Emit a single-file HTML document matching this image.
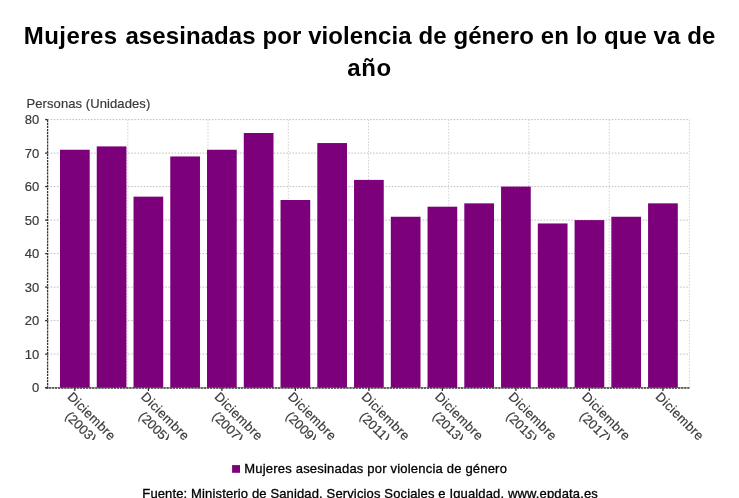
<!DOCTYPE html>
<html lang="es"><head><meta charset="utf-8"><title>Mujeres asesinadas por violencia de género en lo que va de año</title>
<style>
html,body{margin:0;padding:0;background:#fff;}
body{width:739px;height:498px;overflow:hidden;position:relative;font-family:"Liberation Sans",sans-serif;}
svg{position:absolute;left:0;top:0;display:block}
svg text{font-family:"Liberation Sans",sans-serif;}
.title{font-weight:bold;font-size:24px;fill:#000;letter-spacing:0.14px}
.ax{font-size:13px;fill:#3a3a3a;stroke:#3a3a3a;stroke-width:0.2px}
.leg{font-size:13px;fill:#000;stroke:#000;stroke-width:0.3px}
</style></head><body>
<svg width="739" height="498" viewBox="0 0 739 498">
<defs><clipPath id="lab"><rect x="0" y="388" width="739" height="52"/></clipPath></defs>

<text class="title" y="43.7"><tspan x="23.8" style="letter-spacing:0.45px">Mujeres </tspan><tspan x="125.4" style="letter-spacing:0.09px">asesinadas por violencia de género en lo que va de</tspan></text>
<text class="title" x="369.5" y="76.3" text-anchor="middle" style="letter-spacing:0.6px">año</text>
<text class="ax" x="26.5" y="107.8" style="letter-spacing:0.09px">Personas (Unidades)</text>
<g stroke="#bcbcbc" stroke-width="1" stroke-dasharray="1.5,1.6" fill="none">
<line x1="47.6" y1="387.6" x2="689.4" y2="387.6"/>
<line x1="47.6" y1="354.1" x2="689.4" y2="354.1"/>
<line x1="47.6" y1="320.6" x2="689.4" y2="320.6"/>
<line x1="47.6" y1="287.1" x2="689.4" y2="287.1"/>
<line x1="47.6" y1="253.6" x2="689.4" y2="253.6"/>
<line x1="47.6" y1="220.1" x2="689.4" y2="220.1"/>
<line x1="47.6" y1="186.6" x2="689.4" y2="186.6"/>
<line x1="47.6" y1="153.1" x2="689.4" y2="153.1"/>
<line x1="47.6" y1="119.6" x2="689.4" y2="119.6"/>
<line x1="127.8" y1="119.6" x2="127.8" y2="387.6" stroke="#d0d0d0"/>
<line x1="208.0" y1="119.6" x2="208.0" y2="387.6" stroke="#d0d0d0"/>
<line x1="288.3" y1="119.6" x2="288.3" y2="387.6" stroke="#d0d0d0"/>
<line x1="368.5" y1="119.6" x2="368.5" y2="387.6" stroke="#d0d0d0"/>
<line x1="448.7" y1="119.6" x2="448.7" y2="387.6" stroke="#d0d0d0"/>
<line x1="528.9" y1="119.6" x2="528.9" y2="387.6" stroke="#d0d0d0"/>
<line x1="609.2" y1="119.6" x2="609.2" y2="387.6" stroke="#d0d0d0"/>
<line x1="689.4" y1="119.6" x2="689.4" y2="387.6" stroke="#d0d0d0"/>
</g>
<text class="ax" x="39.2" y="392.2" text-anchor="end">0</text>
<text class="ax" x="39.2" y="358.7" text-anchor="end">10</text>
<text class="ax" x="39.2" y="325.2" text-anchor="end">20</text>
<text class="ax" x="39.2" y="291.7" text-anchor="end">30</text>
<text class="ax" x="39.2" y="258.2" text-anchor="end">40</text>
<text class="ax" x="39.2" y="224.7" text-anchor="end">50</text>
<text class="ax" x="39.2" y="191.2" text-anchor="end">60</text>
<text class="ax" x="39.2" y="157.7" text-anchor="end">70</text>
<text class="ax" x="39.2" y="124.2" text-anchor="end">80</text>
<g fill="#7b0079">
<rect x="60.00" y="149.75" width="29.70" height="237.85"/>
<rect x="96.75" y="146.40" width="29.70" height="241.20"/>
<rect x="133.51" y="196.65" width="29.70" height="190.95"/>
<rect x="170.27" y="156.45" width="29.70" height="231.15"/>
<rect x="207.02" y="149.75" width="29.70" height="237.85"/>
<rect x="243.78" y="133.00" width="29.70" height="254.60"/>
<rect x="280.53" y="200.00" width="29.70" height="187.60"/>
<rect x="317.29" y="143.05" width="29.70" height="244.55"/>
<rect x="354.04" y="179.90" width="29.70" height="207.70"/>
<rect x="390.80" y="216.75" width="29.70" height="170.85"/>
<rect x="427.55" y="206.70" width="29.70" height="180.90"/>
<rect x="464.31" y="203.35" width="29.70" height="184.25"/>
<rect x="501.06" y="186.60" width="29.70" height="201.00"/>
<rect x="537.82" y="223.45" width="29.70" height="164.15"/>
<rect x="574.57" y="220.10" width="29.70" height="167.50"/>
<rect x="611.33" y="216.75" width="29.70" height="170.85"/>
<rect x="648.08" y="203.35" width="29.70" height="184.25"/>
</g>
<g stroke="#333333" stroke-width="1.3" fill="none">
<line x1="47.6" y1="119.6" x2="47.6" y2="388.5" stroke-dasharray="2.3,0.8"/>
<line x1="45.6" y1="388.0" x2="689.4" y2="388.0" stroke-dasharray="2.3,0.8"/>
<line x1="45.1" y1="387.6" x2="47.6" y2="387.6"/>
<line x1="45.1" y1="354.1" x2="47.6" y2="354.1"/>
<line x1="45.1" y1="320.6" x2="47.6" y2="320.6"/>
<line x1="45.1" y1="287.1" x2="47.6" y2="287.1"/>
<line x1="45.1" y1="253.6" x2="47.6" y2="253.6"/>
<line x1="45.1" y1="220.1" x2="47.6" y2="220.1"/>
<line x1="45.1" y1="186.6" x2="47.6" y2="186.6"/>
<line x1="45.1" y1="153.1" x2="47.6" y2="153.1"/>
<line x1="45.1" y1="119.6" x2="47.6" y2="119.6"/>
<line x1="74.8" y1="387.6" x2="74.8" y2="391.0"/>
<line x1="148.4" y1="387.6" x2="148.4" y2="391.0"/>
<line x1="221.9" y1="387.6" x2="221.9" y2="391.0"/>
<line x1="295.4" y1="387.6" x2="295.4" y2="391.0"/>
<line x1="368.9" y1="387.6" x2="368.9" y2="391.0"/>
<line x1="442.4" y1="387.6" x2="442.4" y2="391.0"/>
<line x1="515.9" y1="387.6" x2="515.9" y2="391.0"/>
<line x1="589.4" y1="387.6" x2="589.4" y2="391.0"/>
<line x1="662.9" y1="387.6" x2="662.9" y2="391.0"/>
</g>
<g clip-path="url(#lab)">
<g transform="translate(88.6,419.4) rotate(45)"><text class="ax" text-anchor="middle" x="0" y="0" style="letter-spacing:0.38px">Diciembre</text><text class="ax" text-anchor="middle" x="0" y="15.3">(2003)</text></g>
<g transform="translate(162.2,419.4) rotate(45)"><text class="ax" text-anchor="middle" x="0" y="0" style="letter-spacing:0.38px">Diciembre</text><text class="ax" text-anchor="middle" x="0" y="15.3">(2005)</text></g>
<g transform="translate(235.7,419.4) rotate(45)"><text class="ax" text-anchor="middle" x="0" y="0" style="letter-spacing:0.38px">Diciembre</text><text class="ax" text-anchor="middle" x="0" y="15.3">(2007)</text></g>
<g transform="translate(309.2,419.4) rotate(45)"><text class="ax" text-anchor="middle" x="0" y="0" style="letter-spacing:0.38px">Diciembre</text><text class="ax" text-anchor="middle" x="0" y="15.3">(2009)</text></g>
<g transform="translate(382.7,419.4) rotate(45)"><text class="ax" text-anchor="middle" x="0" y="0" style="letter-spacing:0.38px">Diciembre</text><text class="ax" text-anchor="middle" x="0" y="15.3">(2011)</text></g>
<g transform="translate(456.2,419.4) rotate(45)"><text class="ax" text-anchor="middle" x="0" y="0" style="letter-spacing:0.38px">Diciembre</text><text class="ax" text-anchor="middle" x="0" y="15.3">(2013)</text></g>
<g transform="translate(529.7,419.4) rotate(45)"><text class="ax" text-anchor="middle" x="0" y="0" style="letter-spacing:0.38px">Diciembre</text><text class="ax" text-anchor="middle" x="0" y="15.3">(2015)</text></g>
<g transform="translate(603.2,419.4) rotate(45)"><text class="ax" text-anchor="middle" x="0" y="0" style="letter-spacing:0.38px">Diciembre</text><text class="ax" text-anchor="middle" x="0" y="15.3">(2017)</text></g>
<g transform="translate(676.7,419.4) rotate(45)"><text class="ax" text-anchor="middle" x="0" y="0" style="letter-spacing:0.38px">Diciembre</text></g>
</g>
<rect x="232.1" y="465.1" width="7.9" height="7.7" fill="#7b0079"/>
<text class="leg" x="244.3" y="473.4" style="letter-spacing:0.2px">Mujeres asesinadas por violencia de género</text>
<text class="leg" x="142.3" y="498.0" style="letter-spacing:0.14px">Fuente: Ministerio de Sanidad, Servicios Sociales e Igualdad, www.epdata.es</text>
</svg></body></html>
